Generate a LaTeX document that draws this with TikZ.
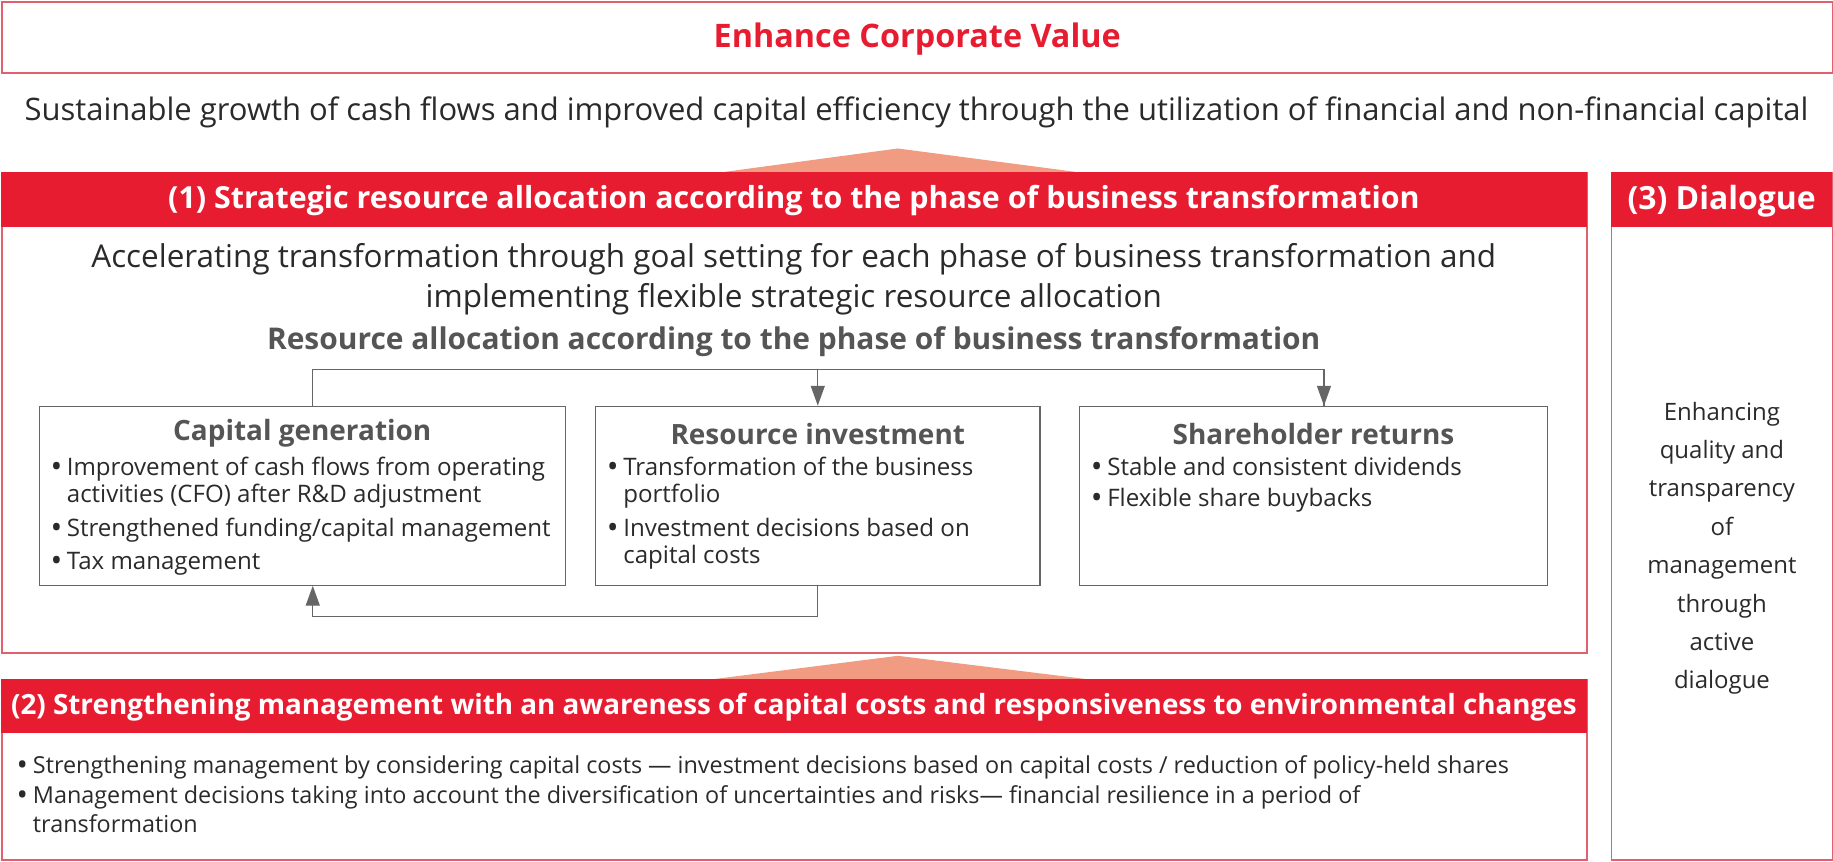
\documentclass[tikz,border=0pt]{standalone}
\usepackage{fontspec}
\setmainfont{Open Sans}
\usepackage{xcolor}
\usepackage{tikz}
\usetikzlibrary{positioning,arrows.meta}

\definecolor{corpred}{HTML}{E81C30}
\definecolor{framered}{HTML}{E0606E}
\definecolor{wedge}{HTML}{F29B83}
\definecolor{headgray}{HTML}{555555}
\definecolor{bodyblack}{HTML}{2A2A2A}
\definecolor{linegray}{HTML}{666666}

\newcommand{\bul}{\makebox[14pt][l]{\raisebox{-0.09em}{\scalebox{1.3}{\textbullet}}}}
\newcommand{\ind}{\hspace*{14pt}}

\tikzset{
  redframe/.style={draw=framered, line width=1.3pt, anchor=north west, inner sep=0pt},
  redbar/.style={fill=corpred, draw=none, anchor=north west, inner sep=0pt},
  bartext/.style={text=white, font=\bfseries\fontsize{26}{30}\selectfont},
  card/.style={draw=linegray, line width=1.1pt, anchor=north west, inner sep=0pt},
  cardtitle/.style={text=headgray, font=\bfseries\fontsize{23.9}{28}\selectfont},
  bullets/.style={anchor=north west, align=left, inner sep=0pt, text=bodyblack},
  flow/.style={draw=linegray, line width=1.1pt},
  flowarrow/.style={flow, -{Triangle[width=12pt,length=17pt]}},
}

\begin{document}
\begin{tikzpicture}[x=1pt, y=-1pt]
    \useasboundingbox (0,0) rectangle (1568,737);

    % top goal
    \node [redframe, minimum width=1566, minimum height=61] (valuebox) at (1,1) {};
    \node [text=corpred, font=\bfseries\fontsize{27.7}{32}\selectfont] (valuetitle) at ([yshift=-1pt]valuebox.center) {Enhance Corporate Value};
    \node [text=bodyblack, font=\fontsize{26.5}{32}\selectfont] (valuetext) at (784,96)
      {Sustainable growth of cash flows and improved capital efficiency through the utilization of financial and non-financial capital};

    % wedges
    \coordinate (W1L) at (620,147);
    \coordinate (W1T) at (768,127);
    \coordinate (W1R) at (920,147);
    \coordinate (W2L) at (610,581);
    \coordinate (W2T) at (768,561);
    \coordinate (W2R) at (930,581);
    \fill [wedge] (W1L) -- (W1T) -- (W1R) -- cycle;
    \fill [wedge] (W2L) -- (W2T) -- (W2R) -- cycle;

    % (1) resource allocation
    \node [redframe, minimum width=1356, minimum height=411] (allocbox) at (1,147) {};
    \node [redbar, minimum width=1356, minimum height=47] (allocbar) at (1,147) {};
    \node [bartext] (alloctitle) at ([yshift=-1pt]allocbar.center) {(1) Strategic resource allocation according to the phase of business transformation};
    \node [align=center, text=bodyblack, font=\fontsize{26.9}{34}\selectfont] (alloctext) at (679,239)
      {Accelerating transformation through goal setting for each phase of business transformation and\\
       implementing flexible strategic resource allocation};
    \node [text=headgray, font=\bfseries\fontsize{25.6}{30}\selectfont] (allochead) at (679,292)
      {Resource allocation according to the phase of business transformation};

    \node [card, minimum width=450, minimum height=153] (capgen) at (33,347) {};
    \node [card, minimum width=380, minimum height=153] (resinv) at (509,347) {};
    \node [card, minimum width=400, minimum height=153] (sharet) at (923,347) {};

    \node [cardtitle] (capgentitle) at ([yshift=-24pt]capgen.north) {Capital generation};
    \node [cardtitle] (resinvtitle) at ([yshift=-24pt]resinv.north) {Resource investment};
    \node [cardtitle] (sharettitle) at ([yshift=-24pt]sharet.north) {Shareholder returns};

    \node [bullets, font=\fontsize{20.6}{23}\selectfont] (capgenlist) at ([xshift=10pt,yshift=-44pt]capgen.north west)
      {\bul Improvement of cash flows from operating\\
       \ind activities (CFO) after R\&D adjustment\\[6pt]
       \bul Strengthened funding/capital management\\[5pt]
       \bul Tax management};
    \node [bullets, font=\fontsize{20.6}{23}\selectfont] (resinvlist) at ([xshift=10pt,yshift=-44pt]resinv.north west)
      {\bul Transformation of the business\\
       \ind portfolio\\[6pt]
       \bul Investment decisions based on\\
       \ind capital costs};
    \node [bullets, font=\fontsize{20.6}{23}\selectfont] (sharetlist) at ([xshift=10pt,yshift=-44pt]sharet.north west)
      {\bul Stable and consistent dividends\\[3pt]
       \bul Flexible share buybacks};

    \draw [flow] ([xshift=9pt]capgen.north) -- ++(0,-31) coordinate (splitL) -| ([xshift=9pt]sharet.north) coordinate (splitR);
    \draw [flowarrow] (splitL -| resinv.north) -- (resinv.north);
    \draw [flowarrow] ([yshift=31pt]splitR) -- (splitR);
    \draw [flowarrow] (resinv.south) -- ++(0,26) -| ([xshift=9pt]capgen.south);

    % (2) capital cost management
    \node [redframe, minimum width=1356, minimum height=154] (costbox) at (1,581) {};
    \node [redbar, minimum width=1356, minimum height=46] (costbar) at (1,581) {};
    \node [bartext, font=\bfseries\fontsize{23.8}{28}\selectfont] (costtitle) at ([yshift=-1pt]costbar.center)
      {(2) Strengthening management with an awareness of capital costs and responsiveness to environmental changes};
    \node [bullets, font=\fontsize{20}{25.5}\selectfont] (costlist) at ([xshift=13pt,yshift=-18.5pt]costbar.south west)
      {\bul Strengthening management by considering capital costs --- investment decisions based on capital costs / reduction of policy-held shares\\
       \bul Management decisions taking into account the diversification of uncertainties and risks--- financial resilience in a period of\\
       \ind transformation};

    % (3) dialogue
    \node [redframe, minimum width=189, minimum height=588] (talkbox) at (1378,147) {};
    \node [redbar, minimum width=189, minimum height=47] (talkbar) at (1378,147) {};
    \node [bartext, font=\bfseries\fontsize{27.3}{31}\selectfont] (talktitle) at ([yshift=-1pt]talkbar.center) {(3) Dialogue};
    \node [align=center, text=bodyblack, font=\fontsize{20.5}{32.8}\selectfont] (talktext) at (1473,469)
      {Enhancing\\quality and\\transparency\\of\\management\\through\\active\\dialogue};
  \end{tikzpicture}
\end{document}
